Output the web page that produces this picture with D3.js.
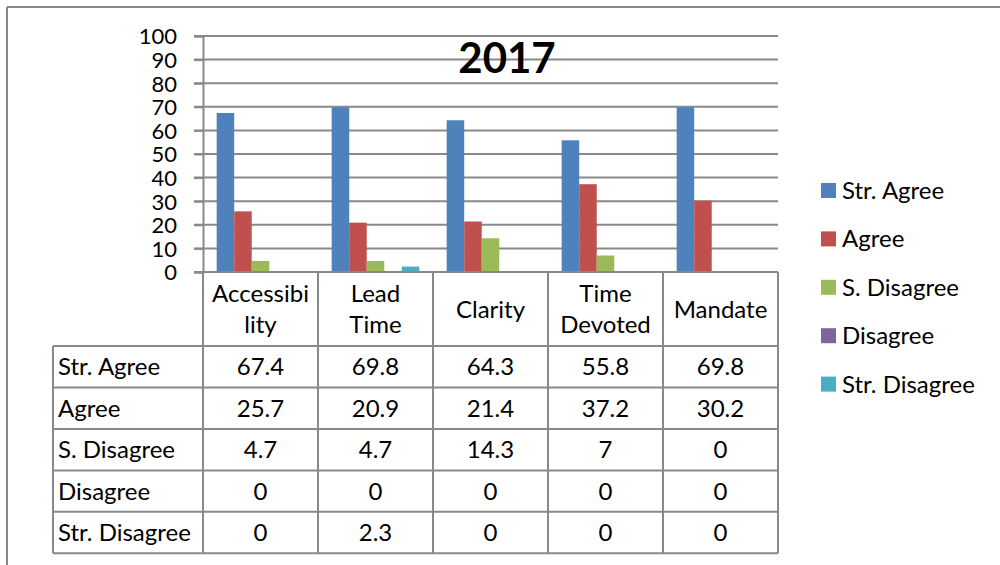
<!DOCTYPE html>
<html><head><meta charset="utf-8">
<script src="https://cdn.jsdelivr.net/npm/d3@7"></script>
<style>
html,body{margin:0;padding:0;background:#fff;}
text{font-family:Lato,"Open Sans",sans-serif;fill:#000;}
</style></head>
<body>
<svg id="c" width="1000" height="565"></svg>
<script>
const title = "2017";
const categories = [["Accessibi","lity"],["Lead","Time"],["Clarity"],["Time","Devoted"],["Mandate"]];
const seriesNames = ["Str. Agree","Agree","S. Disagree","Disagree","Str. Disagree"];
const strAgree   = [67.4, 69.8, 64.3, 55.8, 69.8];
const agree      = [25.7, 20.9, 21.4, 37.2, 30.2];
const sDisagree  = [4.7, 4.7, 14.3, 7, 0];
const disagree   = [0, 0, 0, 0, 0];
const strDisagree= [0, 2.3, 0, 0, 0];
const yTicks = [0,10,20,30,40,50,60,70,80,90,100];
const colors = ["#4F81BD","#C0504D","#9BBB59","#8064A2","#4BACC6"];

const values = [strAgree, agree, sDisagree, disagree, strDisagree];
const catKeys = categories.map(c => c.join(""));
const fs = 24;

const svg = d3.select("#c");
const gridCol = "#898989";

// outer frame (top and left only visible)
svg.append("line").attr("x1",7).attr("x2",1000).attr("y1",7).attr("y2",7)
  .attr("stroke",gridCol).attr("stroke-width",2);
svg.append("line").attr("x1",7).attr("x2",7).attr("y1",7).attr("y2",565)
  .attr("stroke",gridCol).attr("stroke-width",2);

const x = d3.scaleBand().domain(catKeys).range([203,778]).padding(0);
const xs = d3.scaleBand().domain(seriesNames).range([0,x.bandwidth()]).paddingInner(0).paddingOuter(0.78);
const y = d3.scaleLinear().domain([0,100]).range([272,36]);

// gridlines
svg.append("g").selectAll("line").data(yTicks).join("line")
  .attr("x1",194).attr("x2",778)
  .attr("y1",d=>y(d)).attr("y2",d=>y(d))
  .attr("stroke",gridCol).attr("stroke-width",2);

// y axis
const yAxis = svg.append("g").attr("transform","translate(203,0)")
  .call(d3.axisLeft(y).tickValues(yTicks).tickSize(9).tickPadding(17).tickFormat(d3.format("d")));
yAxis.select(".domain").attr("stroke",gridCol).attr("stroke-width",2);
yAxis.selectAll(".tick line").attr("stroke",gridCol).attr("stroke-width",2);
yAxis.selectAll(".tick text").attr("font-family","Lato").attr("font-size",22).attr("fill","#000").attr("dy","0.36em");

// bars
const data = [];
seriesNames.forEach((s,si)=>catKeys.forEach((c,ci)=>data.push({s,c,v:values[si][ci],i:si})));
svg.append("g").selectAll("rect").data(data).join("rect")
  .attr("x",d=>x(d.c)+xs(d.s))
  .attr("width",xs.bandwidth())
  .attr("y",d=>y(d.v))
  .attr("height",d=>y(0)-y(d.v))
  .attr("fill",d=>colors[d.i]);

// title
svg.append("text").attr("x",507).attr("y",73).attr("text-anchor","middle")
  .attr("font-size",42).attr("font-weight","bold").text(title);

// legend
const lg = svg.append("g");
seriesNames.forEach((s,i)=>{
  const cy = 190.5 + i*48.4;
  lg.append("rect").attr("x",821).attr("y",cy-7.5).attr("width",15).attr("height",15).attr("fill",colors[i]);
  lg.append("text").attr("x",842).attr("y",cy+8.5).attr("font-size",fs).text(s);
});

// data table
const tTop = 346, tBottom = 553.3;
const rowScale = d3.scaleBand().domain(seriesNames).range([tTop,tBottom]);
const tg = svg.append("g");
const lineAttr = sel => sel.attr("stroke",gridCol).attr("stroke-width",2);
x.domain().forEach(c=>{
  tg.append("line").attr("x1",x(c)).attr("x2",x(c)).attr("y1",272).attr("y2",tBottom).call(lineAttr);
});
tg.append("line").attr("x1",778).attr("x2",778).attr("y1",272).attr("y2",tBottom).call(lineAttr);
tg.append("line").attr("x1",53).attr("x2",53).attr("y1",tTop).attr("y2",tBottom).call(lineAttr);
seriesNames.forEach(s=>{
  tg.append("line").attr("x1",53).attr("x2",778).attr("y1",rowScale(s)).attr("y2",rowScale(s)).call(lineAttr);
});
tg.append("line").attr("x1",53).attr("x2",778).attr("y1",tBottom).attr("y2",tBottom).call(lineAttr);
tg.append("line").attr("x1",194).attr("x2",778).attr("y1",272).attr("y2",272).call(lineAttr);

// header labels
categories.forEach((lines,ci)=>{
  const cx = x(catKeys[ci]) + x.bandwidth()/2;
  const base = lines.length===2 ? [302,333] : [318];
  lines.forEach((t,li)=>{
    tg.append("text").attr("x",cx).attr("y",base[li]).attr("text-anchor","middle").attr("font-size",fs).text(t);
  });
});
// rows
seriesNames.forEach((s,si)=>{
  const cy = rowScale(s) + rowScale.bandwidth()/2 + 8.5;
  tg.append("text").attr("x",58).attr("y",cy).attr("font-size",fs).text(s);
  catKeys.forEach((c,ci)=>{
    tg.append("text").attr("x",x(c)+x.bandwidth()/2).attr("y",cy).attr("text-anchor","middle")
      .attr("font-size",fs).text(values[si][ci]);
  });
});
</script>
</body></html>
